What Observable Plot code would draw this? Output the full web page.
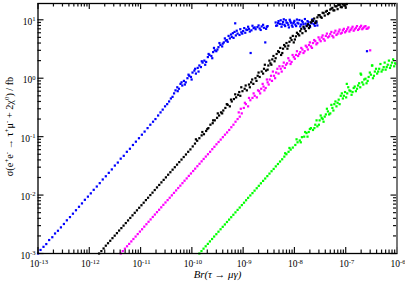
<!DOCTYPE html>
<html><head><meta charset="utf-8">
<script src="https://cdn.jsdelivr.net/npm/d3@7"></script>
<script src="https://cdn.jsdelivr.net/npm/@observablehq/plot@0.6"></script>
<style>html,body{margin:0;padding:0;background:#fff} svg{display:block}</style>
</head><body><div id="chart"></div>
<script>
// [Br(tau -> mu gamma), sigma / fb]
const blue = [
[1.0e-13,1.0e-3],[1.12e-13,1.15e-3],[1.28e-13,1.3e-3],[1.45e-13,1.45e-3],[1.65e-13,1.7e-3],[1.9e-13,1.9e-3],[2.15e-13,2.2e-3],[2.45e-13,2.45e-3],[2.8e-13,2.8e-3],[3.2e-13,3.2e-3],[3.65e-13,3.7e-3],[4.2e-13,4.2e-3],[4.8e-13,4.8e-3],[5.5e-13,5.5e-3],[6.3e-13,6.3e-3],[7.2e-13,7.2e-3],[8.2e-13,8.3e-3],[9.4e-13,9.4e-3],[1.07e-12,1.07e-2],[1.22e-12,1.23e-2],[1.4e-12,1.4e-2],[1.6e-12,1.6e-2],[1.83e-12,1.85e-2],[2.1e-12,2.1e-2],[2.4e-12,2.4e-2],[2.75e-12,2.75e-2],[3.15e-12,3.2e-2],[3.6e-12,3.6e-2],[4.1e-12,4.2e-2],[4.7e-12,4.7e-2],[5.4e-12,5.5e-2],[6.2e-12,6.2e-2],[7.1e-12,7.2e-2],[8.1e-12,8.2e-2],[9.3e-12,9.4e-2],[1.06e-11,0.108],[1.2e-11,0.122],[1.37e-11,0.14],[1.55e-11,0.16],[1.75e-11,0.18],[1.95e-11,0.2],[2.2e-11,0.23],[2.45e-11,0.26],[2.7e-11,0.29],[3.0e-11,0.33],[3.3e-11,0.36],[3.6e-11,0.4],[3.9e-11,0.45],[4.2e-11,0.48],[4.5e-11,0.55],
[4.8e-11,0.62],[5.2e-11,0.7],[5.6e-11,0.66],[6.0e-11,0.8],[6.5e-11,0.75],[7.0e-11,0.9],[7.6e-11,0.85],[8.2e-11,1.0],[8.9e-11,1.1],[9.6e-11,1.05],[1.03e-10,1.25],[1.12e-10,1.35],[1.2e-10,1.2],[1.3e-10,1.5],[1.4e-10,1.65],[1.5e-10,1.55],[1.62e-10,1.85],[1.75e-10,2.0],[1.9e-10,1.9],[2.05e-10,2.3],[2.2e-10,2.5],[2.4e-10,2.4],[2.6e-10,2.8],[2.8e-10,3.0],[3.0e-10,2.9],[3.3e-10,3.4],[3.6e-10,3.7],[3.9e-10,3.5],[4.2e-10,4.1],[4.6e-10,4.4],[5.0e-10,4.2],[5.5e-10,4.8],[6.0e-10,5.1],[6.5e-10,4.9],[7.0e-10,8.7],[7.2e-10,5.4],[7.8e-10,5.8],[8.5e-10,5.5],[9.2e-10,6.1],[1.0e-9,6.4],[1.1e-9,6.0],[1.2e-9,6.7],[1.3e-9,7.0],[1.4e-9,2.7],[1.45e-9,6.6],[1.6e-9,7.2],[2.7e-9,4.1],[1.75e-9,6.9],[1.9e-9,7.5],[2.1e-9,7.1],[2.3e-9,7.7],[2.55e-9,7.3],[2.8e-9,7.0],[3.0e-9,7.8],
[5.3e-11,0.6],[6.3e-11,0.85],[7.3e-11,0.78],[8.6e-11,1.15],[9.9e-11,0.95],[1.16e-10,1.45],[1.35e-10,1.3],[1.56e-10,1.95],[1.82e-10,1.7],[2.12e-10,2.6],[2.5e-10,2.2],[2.7e-10,3.3],[3.15e-10,3.1],[3.45e-10,4.0],[4.0e-10,3.9],[4.4e-10,4.8],[4.8e-10,4.5],[5.2e-10,5.3],[5.8e-10,5.6],[6.3e-10,5.9],[6.8e-10,6.2],[7.5e-10,6.5],[8.8e-10,6.9],[9.6e-10,5.8],[1.05e-9,7.2],[1.15e-9,6.8],[1.25e-9,7.6],[1.35e-9,6.3],[1.52e-9,7.9],[1.68e-9,7.4],[2.0e-9,8.0],[2.2e-9,6.7],[2.45e-9,8.2],[2.9e-9,7.6],
[4.3e-9,9.0],[4.6e-9,8.0],[4.9e-9,9.5],[5.2e-9,8.5],[5.6e-9,7.6],[6.0e-9,9.2],[6.4e-9,8.2],[6.8e-9,9.8],[7.3e-9,8.8],[7.8e-9,7.4],[8.3e-9,9.4],[8.9e-9,8.0],[9.5e-9,8.7],[1.0e-8,9.6],[1.08e-8,7.8],[1.15e-8,8.9],[1.25e-8,9.9],[1.35e-8,8.3],[1.45e-8,9.1],[1.55e-8,7.3],[1.65e-8,8.6],[1.8e-8,9.5],[1.95e-8,8.1],[2.1e-8,9.0],[2.25e-8,10.2],[2.4e-8,8.4],[2.6e-8,9.3],[2.8e-8,8.0],
[4.4e-9,7.9],[4.8e-9,8.8],[5.4e-9,9.8],[5.8e-9,8.4],[6.2e-9,10.2],[6.6e-9,7.8],[7.0e-9,9.0],[7.6e-9,8.2],[8.1e-9,10.0],[8.6e-9,8.9],[9.2e-9,7.6],[9.8e-9,9.2],[1.04e-8,8.3],[1.12e-8,10.1],[1.2e-8,8.6],[1.3e-8,7.7],[1.4e-8,9.6],[1.5e-8,8.4],[1.6e-8,10.3],[1.72e-8,8.0],[1.88e-8,9.1],[2.02e-8,7.5],[2.18e-8,8.7],[2.32e-8,9.6],[2.5e-8,7.9],[2.7e-8,8.9],
[2.6e-7,2.9]
];
const black = [
[1.55e-12,1.0e-3],[1.72e-12,1.1e-3],[1.9e-12,1.22e-3],[2.1e-12,1.36e-3],[2.32e-12,1.5e-3],[2.56e-12,1.65e-3],[2.83e-12,1.83e-3],[3.13e-12,2.02e-3],[3.46e-12,2.23e-3],[3.82e-12,2.47e-3],[4.22e-12,2.72e-3],[4.66e-12,3.0e-3],[5.15e-12,3.32e-3],[5.7e-12,3.68e-3],[6.3e-12,4.06e-3],[6.96e-12,4.5e-3],[7.7e-12,4.97e-3],[8.5e-12,5.48e-3],[9.4e-12,6.06e-3],[1.04e-11,6.7e-3],[1.15e-11,7.4e-3],[1.27e-11,8.2e-3],[1.4e-11,9.0e-3],[1.55e-11,1.0e-2],[1.71e-11,1.1e-2],[1.89e-11,1.22e-2],[2.09e-11,1.35e-2],[2.31e-11,1.49e-2],[2.55e-11,1.65e-2],[2.82e-11,1.82e-2],[3.12e-11,2.01e-2],[3.45e-11,2.23e-2],[3.81e-11,2.46e-2],[4.21e-11,2.72e-2],[4.65e-11,3.0e-2],[5.14e-11,3.32e-2],[5.68e-11,3.67e-2],[6.28e-11,4.05e-2],[6.94e-11,4.48e-2],[7.67e-11,4.95e-2],[8.48e-11,5.5e-2],[9.37e-11,6.05e-2],
[1.04e-10,6.8e-2],[1.15e-10,7.6e-2],[1.27e-10,8.5e-2],[1.4e-10,9.4e-2],[1.55e-10,0.105],[1.72e-10,0.11],[1.9e-10,0.125],[2.1e-10,0.14],[2.3e-10,0.16],[2.55e-10,0.17],[2.8e-10,0.19],[3.1e-10,0.21],[3.4e-10,0.23],[3.7e-10,0.26],[4.1e-10,0.28],[4.5e-10,0.31],[5.0e-10,0.35],[5.5e-10,0.33],[6.0e-10,0.4],[6.6e-10,0.44],[7.3e-10,0.47],[8.0e-10,0.52],[8.8e-10,0.5],[9.7e-10,0.6],[1.07e-9,0.66],[1.18e-9,0.62],[1.3e-9,0.78],[1.43e-9,0.85],[1.58e-9,0.8],[1.74e-9,1.0],[1.92e-9,1.1],[2.1e-9,1.05],[2.3e-9,1.3],[2.55e-9,1.45],[2.8e-9,1.35],[3.1e-9,1.65],[3.4e-9,1.8],[3.7e-9,2.1],[4.1e-9,1.95],[4.5e-9,2.6],[5.0e-9,2.8],[5.5e-9,2.5],[6.0e-9,3.2],[6.6e-9,3.5],[7.3e-9,3.2],[8.0e-9,4.2],[8.8e-9,4.5],[9.7e-9,4.1],[1.07e-8,5.2],[1.18e-8,5.7],[1.3e-8,6.4],[1.43e-8,5.9],[1.58e-8,7.0],[1.74e-8,7.8],[1.92e-8,7.2],[2.1e-8,9.0],[2.3e-8,9.5],[2.55e-8,8.8],[2.8e-8,11.0],[3.1e-8,12.0],[3.4e-8,10.8],[3.7e-8,13.0],[4.1e-8,13.8],[4.5e-8,12.5],[5.0e-8,15.0],[5.5e-8,16.0],[6.0e-8,14.5],[6.6e-8,17.0],[7.3e-8,18.0],[8.0e-8,16.5],[8.8e-8,18.5],[9.7e-8,17.5],[1.05e-7,18.6],
[1.2e-10,0.09],[1.6e-10,0.12],[2.0e-10,0.135],[2.6e-10,0.19],[3.2e-10,0.25],[3.9e-10,0.25],[4.8e-10,0.36],[5.8e-10,0.43],[7.0e-10,0.53],[8.4e-10,0.58],[9.2e-10,0.7],[1.12e-9,0.75],[1.35e-9,0.7],[1.5e-9,0.95],[1.82e-9,0.9],[2.0e-9,1.25],[2.45e-9,1.2],[2.65e-9,1.7],[3.0e-9,1.4],[3.25e-9,2.0],[3.55e-9,1.7],[3.9e-9,2.4],[4.3e-9,2.2],[4.8e-9,2.9],[5.3e-9,3.3],[5.8e-9,2.7],[6.3e-9,3.7],[7.0e-9,4.0],[7.6e-9,3.6],[8.4e-9,4.9],[9.3e-9,5.3],[1.02e-8,4.6],[1.12e-8,6.0],[1.24e-8,5.4],[1.36e-8,7.0],[1.5e-8,7.6],[1.66e-8,6.4],[1.83e-8,8.4],[2.0e-8,7.8],[2.2e-8,9.8],[2.43e-8,10.5],[2.68e-8,9.4],[2.95e-8,12.0],[3.25e-8,11.2],[3.55e-8,13.2],[3.9e-8,11.8],[4.3e-8,14.2],[4.75e-8,13.0],[5.25e-8,15.5],[5.75e-8,14.5],[6.3e-8,17.0],[6.95e-8,15.2],[7.6e-8,18.2],[8.4e-8,16.4],[9.2e-8,17.8],[1.0e-7,16.2]
];
const magenta = [
[4.1e-12,1.0e-3],[4.5e-12,1.1e-3],[4.95e-12,1.21e-3],[5.45e-12,1.33e-3],[6.0e-12,1.46e-3],[6.6e-12,1.61e-3],[7.25e-12,1.77e-3],[8.0e-12,1.95e-3],[8.8e-12,2.15e-3],[9.7e-12,2.37e-3],[1.07e-11,2.6e-3],[1.18e-11,2.88e-3],[1.3e-11,3.17e-3],[1.43e-11,3.49e-3],[1.57e-11,3.83e-3],[1.73e-11,4.22e-3],[1.9e-11,4.64e-3],[2.09e-11,5.1e-3],[2.3e-11,5.6e-3],[2.53e-11,6.17e-3],[2.78e-11,6.8e-3],[3.06e-11,7.47e-3],[3.37e-11,8.2e-3],[3.7e-11,9.0e-3],[4.07e-11,9.9e-3],[4.48e-11,1.09e-2],[4.93e-11,1.2e-2],[5.42e-11,1.32e-2],[5.96e-11,1.45e-2],[6.56e-11,1.6e-2],[7.2e-11,1.76e-2],[7.93e-11,1.93e-2],[8.72e-11,2.13e-2],[9.6e-11,2.34e-2],[1.06e-10,2.58e-2],[1.16e-10,2.83e-2],[1.28e-10,3.12e-2],[1.41e-10,3.43e-2],[1.55e-10,3.78e-2],[1.7e-10,4.15e-2],[1.87e-10,4.56e-2],[2.06e-10,5.0e-2],[2.27e-10,5.5e-2],[2.5e-10,6.1e-2],[2.75e-10,6.7e-2],[3.02e-10,7.4e-2],[3.32e-10,8.1e-2],[3.65e-10,8.9e-2],[4.02e-10,9.8e-2],[4.42e-10,0.108],[4.86e-10,0.118],[5.35e-10,0.13],[5.88e-10,0.145],[6.47e-10,0.16],[7.1e-10,0.18],[7.8e-10,0.2],[8.6e-10,0.22],[9.4e-10,0.25],[8.2e-10,0.26],[9.0e-10,0.3],
[1.03e-9,0.31],[1.13e-9,0.36],[1.25e-9,0.33],[1.38e-9,0.42],[1.52e-9,0.46],[1.68e-9,0.5],[1.85e-9,0.47],[2.05e-9,0.6],[2.25e-9,0.66],[2.5e-9,0.72],[2.75e-9,0.68],[3.0e-9,0.85],[3.3e-9,0.95],[3.65e-9,0.9],[4.0e-9,1.1],[4.4e-9,1.25],[4.9e-9,1.2],[5.4e-9,1.45],[5.9e-9,1.6],[6.5e-9,1.5],[7.2e-9,1.8],[8.0e-9,2.0],[8.8e-9,1.9],[9.7e-9,2.3],[1.07e-8,2.5],[1.18e-8,2.4],[1.3e-8,2.8],[1.43e-8,3.1],[1.58e-8,2.9],[1.74e-8,3.4],[1.92e-8,3.7],[2.1e-8,3.5],[2.3e-8,4.0],[2.55e-8,4.3],[2.8e-8,4.0],[3.1e-8,4.6],[3.4e-8,5.0],[3.7e-8,4.7],[4.1e-8,5.3],[4.5e-8,5.0],[5.0e-8,5.7],[5.5e-8,5.3],[6.0e-8,6.0],[6.6e-8,5.5],[7.3e-8,6.3],[8.0e-8,5.8],[8.8e-8,6.6],[9.7e-8,6.1],[1.07e-7,6.9],[1.18e-7,6.3],[1.3e-7,7.1],[1.43e-7,6.5],[1.58e-7,7.3],[1.74e-7,6.7],[1.92e-7,7.5],[2.1e-7,6.9],[2.3e-7,7.6],[2.55e-7,7.0],[2.8e-7,7.4],[3.0e-7,3.0],
[1.08e-9,0.38],[1.3e-9,0.46],[1.6e-9,0.55],[1.95e-9,0.62],[2.15e-9,0.55],[2.4e-9,0.8],[2.6e-9,0.62],[2.9e-9,0.95],[3.15e-9,0.78],[3.5e-9,1.1],[3.8e-9,1.3],[4.2e-9,1.0],[4.65e-9,1.45],[5.1e-9,1.6],[5.65e-9,1.3],[6.2e-9,1.85],[6.85e-9,1.7],[7.6e-9,2.2],[8.4e-9,1.75],[9.2e-9,2.5],[1.02e-8,2.15],[1.12e-8,2.9],[1.24e-8,2.6],[1.36e-8,3.3],[1.5e-8,2.7],[1.66e-8,3.6],[1.83e-8,3.1],[2.0e-8,4.1],[2.2e-8,3.3],[2.43e-8,4.5],[2.68e-8,3.8],[2.95e-8,5.0],[3.25e-8,4.3],[3.55e-8,5.4],[3.9e-8,4.4],[4.3e-8,5.8],[4.75e-8,5.2],[5.25e-8,6.2],[5.75e-8,5.0],[6.3e-8,6.5],[6.95e-8,5.8],[7.6e-8,6.8],[8.4e-8,6.0],[9.2e-8,7.0],[1.02e-7,6.4],[1.12e-7,7.4],[1.24e-7,6.7],[1.36e-7,7.6],[1.5e-7,6.9],[1.66e-7,7.8],[1.83e-7,7.0],[2.0e-7,7.9],[2.2e-7,7.2],[2.43e-7,7.8],[2.68e-7,7.1]
];
const green = [
[1.4e-10,1.0e-3],[1.54e-10,1.1e-3],[1.69e-10,1.21e-3],[1.86e-10,1.33e-3],[2.05e-10,1.46e-3],[2.25e-10,1.61e-3],[2.48e-10,1.77e-3],[2.72e-10,1.95e-3],[3.0e-10,2.14e-3],[3.3e-10,2.36e-3],[3.63e-10,2.6e-3],[4.0e-10,2.86e-3],[4.4e-10,3.14e-3],[4.84e-10,3.46e-3],[5.32e-10,3.8e-3],[5.85e-10,4.18e-3],[6.44e-10,4.6e-3],[7.08e-10,5.06e-3],[7.8e-10,5.57e-3],[8.57e-10,6.12e-3],[9.43e-10,6.74e-3],[1.04e-9,7.4e-3],[1.14e-9,8.15e-3],[1.25e-9,8.96e-3],[1.38e-9,9.86e-3],[1.52e-9,1.08e-2],[1.67e-9,1.19e-2],[1.84e-9,1.31e-2],[2.02e-9,1.44e-2],[2.22e-9,1.59e-2],[2.45e-9,1.75e-2],[2.69e-9,1.92e-2],[2.96e-9,2.11e-2],[3.26e-9,2.33e-2],[3.58e-9,2.56e-2],[3.94e-9,2.8e-2],[4.33e-9,3.1e-2],[4.77e-9,3.4e-2],[5.24e-9,3.75e-2],[5.77e-9,4.1e-2],[6.35e-9,4.55e-2],[6.98e-9,5.0e-2],[7.68e-9,5.5e-2],[8.45e-9,6.0e-2],[9.3e-9,6.5e-2],[6.6e-9,5.2e-2],[8.0e-9,6.4e-2],
[1.04e-8,7.2e-2],[1.15e-8,8.0e-2],[1.27e-8,8.6e-2],[1.4e-8,9.8e-2],[1.55e-8,0.1],[1.72e-8,0.115],[1.9e-8,0.12],[2.1e-8,0.14],[2.3e-8,0.13],[2.55e-8,0.16],[2.8e-8,0.15],[3.1e-8,0.19],[3.4e-8,0.21],[3.7e-8,0.18],[4.1e-8,0.24],[4.5e-8,0.27],[5.0e-8,0.25],[5.5e-8,0.31],[6.0e-8,0.36],[6.6e-8,0.33],[7.3e-8,0.43],[8.0e-8,0.5],[8.8e-8,0.45],[9.7e-8,0.58],[1.07e-7,0.55],[1.18e-7,0.62],[1.3e-7,0.52],[1.43e-7,0.68],[1.58e-7,0.6],[1.74e-7,0.75],[1.92e-7,0.7],[2.1e-7,0.85],[2.3e-7,0.95],[2.55e-7,0.82],[2.8e-7,1.05],[3.1e-7,1.15],[3.4e-7,1.0],[3.7e-7,1.3],[4.1e-7,1.2],[4.5e-7,1.45],[5.0e-7,1.3],[5.5e-7,1.55],[6.0e-7,1.4],[6.6e-7,1.7],[7.3e-7,1.5],[8.0e-7,1.85],[8.8e-7,1.6],[9.7e-7,1.75],[1.05e-7,0.8],[1.95e-7,1.2],[3.3e-7,1.65],
[1.1e-8,9.0e-2],[1.33e-8,8.0e-2],[1.62e-8,0.12],[1.8e-8,0.1],[2.0e-8,0.135],[2.45e-8,0.14],[2.7e-8,0.19],[3.0e-8,0.16],[3.25e-8,0.23],[3.55e-8,0.2],[3.9e-8,0.22],[4.3e-8,0.3],[4.75e-8,0.24],[5.25e-8,0.35],[5.75e-8,0.28],[6.3e-8,0.4],[6.95e-8,0.38],[7.6e-8,0.36],[8.4e-8,0.55],[9.2e-8,0.5],[1.02e-7,0.47],[1.12e-7,0.7],[1.24e-7,0.6],[1.36e-7,0.58],[1.5e-7,0.72],[1.66e-7,0.66],[1.83e-7,0.82],[2.0e-7,1.15],[2.2e-7,0.78],[2.43e-7,0.98],[2.68e-7,0.9],[2.95e-7,1.25],[3.25e-7,1.65],[3.55e-7,1.1],[3.9e-7,1.45],[4.3e-7,1.3],[4.75e-7,1.75],[5.25e-7,1.4],[5.75e-7,1.85],[6.3e-7,1.55],[6.95e-7,2.0],[7.6e-7,1.65],[8.4e-7,2.1],[9.2e-7,1.8]
];
const seriesNames = ["set 1", "set 2", "set 3", "set 4"];
const seriesColors = ["#0000ff", "#000000", "#ff00ff", "#00ff00"];
const xTickExps = [-13, -12, -11, -10, -9, -8, -7, -6];
const yTickExps = [-3, -2, -1, 0, 1];
const xDomain = [1e-13, 1e-6];
const yDomain = [1e-3, 19];
const xLabel = "Br(τ → μγ)";
const yLabel = "σ(e^{+}e^{-} → τ^{+}μ^{-} + 2χ^{0}) / fb";

const rows = [];
[blue, black, magenta, green].forEach((arr, i) =>
  arr.forEach(([x, y]) => rows.push({x, y, s: seriesNames[i]})));

const xMajor = xTickExps.map(e => Math.pow(10, e));
const yMajor = yTickExps.map(e => Math.pow(10, e));
const minorOf = (majors, dom) => majors.flatMap(m => [2,3,4,5,6,7,8,9].map(k => k * m))
  .filter(v => v > dom[0] * 1.0001 && v < dom[1] * 0.9999);
const xMinor = minorOf(xMajor, xDomain);
const yMinor = minorOf(yMajor, yDomain);
const fmt = d => "10^{" + Math.round(Math.log10(d)) + "}";
const font = "'Liberation Serif', 'Times New Roman', serif";

const W = 405, H = 282, mL = 37.5, mR = 8.5, mT = 3, mB = 29;
const plotW = W - mL - mR, plotH = H - mT - mB;
const majorLen = 6, minorLen = 3.5;
const tk = {stroke: "#111", strokeWidth: 1.2};

const chart = Plot.plot({
  width: W, height: H,
  marginLeft: mL, marginRight: mR, marginTop: mT, marginBottom: mB,
  style: {fontFamily: font, background: "white", color: "black", fontSize: "9.5px"},
  x: {type: "log", domain: xDomain, axis: null},
  y: {type: "log", domain: yDomain, axis: null},
  color: {domain: seriesNames, range: seriesColors},
  marks: [
    Plot.dot(rows, {x: "x", y: "y", fill: "s", r: 1.25, symbol: "square"}),
    Plot.tickX(xMajor, {x: d => d, insetTop: plotH - majorLen, ...tk}),
    Plot.tickX(xMinor, {x: d => d, insetTop: plotH - minorLen, ...tk}),
    Plot.tickX(xMajor, {x: d => d, insetBottom: plotH - majorLen, ...tk}),
    Plot.tickX(xMinor, {x: d => d, insetBottom: plotH - minorLen, ...tk}),
    Plot.tickY(yMajor, {y: d => d, insetRight: plotW - majorLen, ...tk}),
    Plot.tickY(yMinor, {y: d => d, insetRight: plotW - minorLen, ...tk}),
    Plot.tickY(yMajor, {y: d => d, insetLeft: plotW - majorLen, ...tk}),
    Plot.tickY(yMinor, {y: d => d, insetLeft: plotW - minorLen, ...tk}),
    Plot.axisX(xMajor, {anchor: "bottom", tickSize: 0, tickPadding: 7, tickFormat: fmt, fontSize: 9.5, dx: 1, label: null}),
    Plot.axisY(yMajor, {anchor: "left", tickSize: 0, tickPadding: 2.5, tickFormat: fmt, fontSize: 9.5, dy: 2, label: null}),
    Plot.frame({stroke: "black", strokeWidth: 1.3}),
    Plot.ruleX([xDomain[1]], {stroke: "#808080", strokeWidth: 1.6}),
    Plot.text([xLabel], {frameAnchor: "bottom", dy: 24, fontSize: 10.8, fontStyle: "italic", fill: "black"}),
    Plot.text([yLabel], {frameAnchor: "left", textAnchor: "middle", rotate: -90, dx: -28.5, dy: -2, fontSize: 10.2, fill: "black"})
  ]
});

// render ^{...} parts as superscripts
const NS = "http://www.w3.org/2000/svg";
chart.querySelectorAll("text").forEach(t => {
  const s = t.textContent;
  if (!s.includes("^{")) return;
  const parts = s.split(/\^\{([^}]*)\}/);
  while (t.firstChild) t.removeChild(t.firstChild);
  let prevSup = false;
  parts.forEach((p, i) => {
    const sup = i % 2 === 1;
    if (p === "" && !sup) return;
    const ts = document.createElementNS(NS, "tspan");
    ts.textContent = p;
    if (sup) {
      ts.setAttribute("font-size", "70%");
      ts.setAttribute("dy", prevSup ? "0" : "-0.55em");
    } else if (prevSup) {
      ts.setAttribute("dy", "0.385em");
    }
    prevSup = sup;
    t.appendChild(ts);
  });
});
document.getElementById("chart").appendChild(chart);
</script>
</body></html>
